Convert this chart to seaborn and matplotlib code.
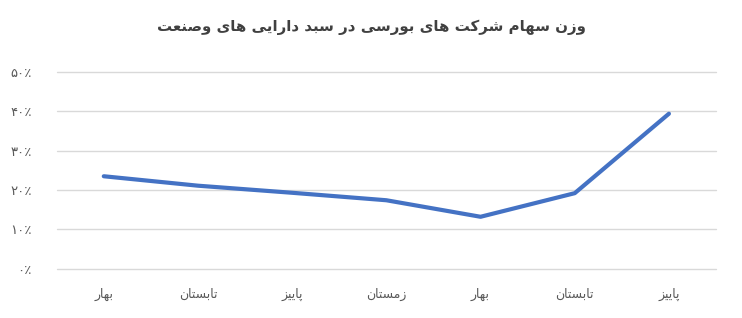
import numpy as np
import pandas as pd
import matplotlib
matplotlib.use("Agg")
import matplotlib.pyplot as plt
import seaborn as sns

# ---- data ----
title_text = "وزن سهام شرکت های بورسی در سبد دارایی های وصنعت"
seasons = ["بهار", "تابستان", "پاییز", "زمستان", "بهار", "تابستان", "پاییز"]
weights = [0.235, 0.211, 0.193, 0.174, 0.132, 0.192, 0.394]
y_ticks = [0.0, 0.1, 0.2, 0.3, 0.4, 0.5]
y_tick_labels = ["۰٪", "۱۰٪", "۲۰٪", "۳۰٪", "۴۰٪", "۵۰٪"]

# ---- minimal Arabic/Persian shaping (no external libs) ----
DUAL = {
    'ب': ('\uFE8F', '\uFE90', '\uFE91', '\uFE92'),
    'پ': ('\uFB56', '\uFB57', '\uFB58', '\uFB59'),
    'ت': ('\uFE95', '\uFE96', '\uFE97', '\uFE98'),
    'س': ('\uFEB1', '\uFEB2', '\uFEB3', '\uFEB4'),
    'ش': ('\uFEB5', '\uFEB6', '\uFEB7', '\uFEB8'),
    'ص': ('\uFEB9', '\uFEBA', '\uFEBB', '\uFEBC'),
    'ع': ('\uFEC9', '\uFECA', '\uFECB', '\uFECC'),
    'م': ('\uFEE1', '\uFEE2', '\uFEE3', '\uFEE4'),
    'ن': ('\uFEE5', '\uFEE6', '\uFEE7', '\uFEE8'),
    'ه': ('\uFEE9', '\uFEEA', '\uFEEB', '\uFEEC'),
    'ک': ('\uFB8E', '\uFB8F', '\uFB90', '\uFB91'),
    'ی': ('\uFBFC', '\uFBFD', '\uFBFE', '\uFBFF'),
}
RIGHT = {
    'ا': ('\uFE8D', '\uFE8E'),
    'د': ('\uFEA9', '\uFEAA'),
    'ر': ('\uFEAD', '\uFEAE'),
    'ز': ('\uFEAF', '\uFEB0'),
    'و': ('\uFEED', '\uFEEE'),
}


def shape(text):
    out = []
    n = len(text)
    for i, ch in enumerate(text):
        prev = text[i - 1] if i > 0 else ''
        nxt = text[i + 1] if i < n - 1 else ''
        joins_prev = prev in DUAL and (ch in DUAL or ch in RIGHT)
        joins_next = ch in DUAL and (nxt in DUAL or nxt in RIGHT)
        if ch in DUAL:
            iso, fin, ini, med = DUAL[ch]
            if joins_prev and joins_next:
                out.append(med)
            elif joins_prev:
                out.append(fin)
            elif joins_next:
                out.append(ini)
            else:
                out.append(iso)
        elif ch in RIGHT:
            iso, fin = RIGHT[ch]
            out.append(fin if joins_prev else iso)
        else:
            out.append(ch)
    return "".join(out)[::-1]


df = pd.DataFrame({"pos": np.arange(len(seasons)), "weight": weights})

sns.set_theme(style="white")
plt.rcParams["font.family"] = ["DejaVu Sans"]

fig = plt.figure(figsize=(7.42, 3.18), dpi=100)
ax = fig.add_axes([0.0764, 0.155, 0.8886, 0.6186])

sns.lineplot(data=df, x="pos", y="weight", ax=ax, color="#4472C4",
             linewidth=3.0, solid_capstyle="round", solid_joinstyle="round")

ax.set_xlim(-0.5, len(seasons) - 0.5)
ax.set_ylim(0, 0.5)
ax.set_yticks(y_ticks)
ax.set_yticklabels(y_tick_labels)
ax.set_xticks(df["pos"])
ax.set_xticklabels([shape(s) for s in seasons])
ax.set_xlabel("")
ax.set_ylabel("")

ax.grid(axis="y", color="#D9D9D9", linewidth=1.0)
for gl in ax.get_ygridlines():
    gl.set_clip_on(False)
ax.set_axisbelow(True)
for sp in ax.spines.values():
    sp.set_visible(False)
ax.tick_params(axis="y", length=0, pad=18, labelsize=9.5, labelcolor="#595959")
ax.tick_params(axis="x", length=0, pad=14, labelsize=9, labelcolor="#595959")

fig.text(0.5, 0.915, shape(title_text), ha="center", va="center",
         fontsize=10.8, fontweight="bold", color="#404040")

fig.savefig("out.png", dpi=100)
